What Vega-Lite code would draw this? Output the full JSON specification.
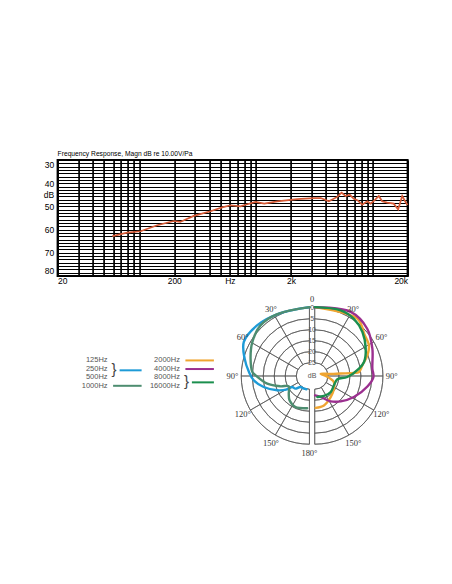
{
  "$schema": "https://vega.github.io/schema/vega-lite/v6.json",
  "background": "white",
  "padding": {"left": 41.6, "top": 149, "right": 5, "bottom": 5},
  "bounds": "flush",
  "spacing": 14,
  "config": {"view": {"stroke": "#000", "strokeWidth": 2}, "font": "Liberation Sans"},
  "datasets": {
    "response": [
      {"f": 59, "db": 62.8}, {"f": 79, "db": 61.3}, {"f": 103, "db": 60.7}, {"f": 143, "db": 58.1},
      {"f": 198, "db": 56.3}, {"f": 225, "db": 56.7}, {"f": 294, "db": 54.1}, {"f": 409, "db": 52.1},
      {"f": 515, "db": 50.4}, {"f": 607, "db": 49.5}, {"f": 740, "db": 50}, {"f": 789, "db": 49.5},
      {"f": 995, "db": 48.1}, {"f": 1180, "db": 48.8}, {"f": 1527, "db": 47.8}, {"f": 2265, "db": 46.9},
      {"f": 3147, "db": 46.4}, {"f": 3600, "db": 46.4}, {"f": 4226, "db": 47.8}, {"f": 4990, "db": 45.9},
      {"f": 5430, "db": 44.1}, {"f": 5875, "db": 45.5}, {"f": 6396, "db": 45}, {"f": 6920, "db": 46.7},
      {"f": 7480, "db": 47.4}, {"f": 8170, "db": 49.3}, {"f": 9030, "db": 47.8}, {"f": 9640, "db": 48.8},
      {"f": 10400, "db": 47.4}, {"f": 11330, "db": 45.5}, {"f": 12100, "db": 47.8}, {"f": 13370, "db": 48.4},
      {"f": 15200, "db": 48.8}, {"f": 16600, "db": 51.3}, {"f": 17980, "db": 45.5}, {"f": 19200, "db": 48.1},
      {"f": 20000, "db": 49.4}
    ],
    "polar": [
      {"series": "125/250/500Hz", "side": "L", "k": 0, "deg": 0, "db": -0.3},
      {"series": "125/250/500Hz", "side": "L", "k": 1, "deg": 26, "db": -0.55},
      {"series": "125/250/500Hz", "side": "L", "k": 2, "deg": 46, "db": -2.1},
      {"series": "125/250/500Hz", "side": "L", "k": 3, "deg": 62.6, "db": -2.6},
      {"series": "125/250/500Hz", "side": "L", "k": 4, "deg": 75, "db": 0.5},
      {"series": "125/250/500Hz", "side": "L", "k": 5, "deg": 86, "db": 3.4},
      {"series": "125/250/500Hz", "side": "L", "k": 6, "deg": 94.4, "db": 5.6},
      {"series": "125/250/500Hz", "side": "L", "k": 7, "deg": 103.5, "db": 9.6},
      {"series": "125/250/500Hz", "side": "L", "k": 8, "deg": 113.9, "db": 15},
      {"series": "125/250/500Hz", "side": "L", "k": 9, "deg": 120.8, "db": 19.2},
      {"series": "125/250/500Hz", "side": "L", "k": 10, "deg": 122.5, "db": 21.7},
      {"series": "125/250/500Hz", "side": "L", "k": 11, "deg": 132, "db": 22.4},
      {"series": "125/250/500Hz", "side": "L", "k": 12, "deg": 140.7, "db": 24.5},
      {"series": "125/250/500Hz", "side": "L", "k": 13, "deg": 155.8, "db": 24.7},
      {"series": "125/250/500Hz", "side": "L", "k": 14, "deg": 167, "db": 24.8},

      {"series": "1000Hz", "side": "L", "k": 0, "deg": 0, "db": -0.3},
      {"series": "1000Hz", "side": "L", "k": 1, "deg": 28, "db": -0.7},
      {"series": "1000Hz", "side": "L", "k": 2, "deg": 44, "db": -1},
      {"series": "1000Hz", "side": "L", "k": 3, "deg": 59.3, "db": 0.8},
      {"series": "1000Hz", "side": "L", "k": 4, "deg": 73.6, "db": 3.1},
      {"series": "1000Hz", "side": "L", "k": 5, "deg": 86, "db": 5},
      {"series": "1000Hz", "side": "L", "k": 6, "deg": 89.3, "db": 6.5},
      {"series": "1000Hz", "side": "L", "k": 7, "deg": 100.3, "db": 11.5},
      {"series": "1000Hz", "side": "L", "k": 8, "deg": 109.6, "db": 17},
      {"series": "1000Hz", "side": "L", "k": 9, "deg": 116.6, "db": 20.5},
      {"series": "1000Hz", "side": "L", "k": 10, "deg": 130.7, "db": 18.6},
      {"series": "1000Hz", "side": "L", "k": 11, "deg": 140.7, "db": 16.7},
      {"series": "1000Hz", "side": "L", "k": 12, "deg": 155.8, "db": 15.5},
      {"series": "1000Hz", "side": "L", "k": 13, "deg": 176, "db": 16.3},

      {"series": "2000Hz", "side": "R", "k": 0, "deg": 0, "db": -0.3},
      {"series": "2000Hz", "side": "R", "k": 1, "deg": 36.6, "db": -1.5},
      {"series": "2000Hz", "side": "R", "k": 2, "deg": 50.4, "db": 1.6},
      {"series": "2000Hz", "side": "R", "k": 3, "deg": 60.5, "db": 2.7},
      {"series": "2000Hz", "side": "R", "k": 4, "deg": 68.5, "db": 5.3},
      {"series": "2000Hz", "side": "R", "k": 5, "deg": 77.3, "db": 8.8},
      {"series": "2000Hz", "side": "R", "k": 6, "deg": 84.8, "db": 10.8},
      {"series": "2000Hz", "side": "R", "k": 7, "deg": 85.6, "db": 13.1},
      {"series": "2000Hz", "side": "R", "k": 8, "deg": 84.5, "db": 19.2},
      {"series": "2000Hz", "side": "R", "k": 9, "deg": 82.8, "db": 23.7},
      {"series": "2000Hz", "side": "R", "k": 10, "deg": 68.7, "db": 28.1},
      {"series": "2000Hz", "side": "R", "k": 11, "deg": 93.2, "db": 25.3},
      {"series": "2000Hz", "side": "R", "k": 12, "deg": 107.4, "db": 21.9},
      {"series": "2000Hz", "side": "R", "k": 13, "deg": 123.5, "db": 20.5},
      {"series": "2000Hz", "side": "R", "k": 14, "deg": 142.9, "db": 19},
      {"series": "2000Hz", "side": "R", "k": 15, "deg": 162.6, "db": 17},
      {"series": "2000Hz", "side": "R", "k": 16, "deg": 178.4, "db": 16.5},

      {"series": "4000Hz", "side": "R", "k": 0, "deg": 0, "db": -0.3},
      {"series": "4000Hz", "side": "R", "k": 1, "deg": 29.3, "db": -2.4},
      {"series": "4000Hz", "side": "R", "k": 2, "deg": 48, "db": -1.1},
      {"series": "4000Hz", "side": "R", "k": 3, "deg": 64.6, "db": 2},
      {"series": "4000Hz", "side": "R", "k": 4, "deg": 82.8, "db": 4.6},
      {"series": "4000Hz", "side": "R", "k": 5, "deg": 91, "db": 4.3},
      {"series": "4000Hz", "side": "R", "k": 6, "deg": 101, "db": 6.5},
      {"series": "4000Hz", "side": "R", "k": 7, "deg": 118.2, "db": 10.8},
      {"series": "4000Hz", "side": "R", "k": 8, "deg": 134.3, "db": 14.5},
      {"series": "4000Hz", "side": "R", "k": 9, "deg": 147.9, "db": 17.4},
      {"series": "4000Hz", "side": "R", "k": 10, "deg": 164.3, "db": 21.1},
      {"series": "4000Hz", "side": "R", "k": 11, "deg": 179, "db": 22.2},

      {"series": "8000/16000Hz", "side": "R", "k": 0, "deg": 0, "db": -0.3},
      {"series": "8000/16000Hz", "side": "R", "k": 1, "deg": 21.5, "db": -1.1},
      {"series": "8000/16000Hz", "side": "R", "k": 2, "deg": 34.4, "db": -0.5},
      {"series": "8000/16000Hz", "side": "R", "k": 3, "deg": 47.3, "db": 1.5},
      {"series": "8000/16000Hz", "side": "R", "k": 4, "deg": 61.8, "db": 4.7},
      {"series": "8000/16000Hz", "side": "R", "k": 5, "deg": 74.1, "db": 7.7},
      {"series": "8000/16000Hz", "side": "R", "k": 6, "deg": 80.6, "db": 10.6},
      {"series": "8000/16000Hz", "side": "R", "k": 7, "deg": 91.8, "db": 16.2},
      {"series": "8000/16000Hz", "side": "R", "k": 8, "deg": 98.3, "db": 20.6},
      {"series": "8000/16000Hz", "side": "R", "k": 9, "deg": 115.8, "db": 21.3},
      {"series": "8000/16000Hz", "side": "R", "k": 10, "deg": 135.2, "db": 20.7},
      {"series": "8000/16000Hz", "side": "R", "k": 11, "deg": 155.3, "db": 21},
      {"series": "8000/16000Hz", "side": "R", "k": 12, "deg": 173, "db": 21.4}
    ],
    "rings": [{"db": 0}, {"db": 5}, {"db": 10}, {"db": 15}, {"db": 20}, {"db": 25}],
    "spokes": [
      {"bearing": 0, "side": "R"}, {"bearing": 30, "side": "R"}, {"bearing": 60, "side": "R"}, {"bearing": 90, "side": "R"},
      {"bearing": 120, "side": "R"}, {"bearing": 150, "side": "R"}, {"bearing": 180, "side": "R"},
      {"bearing": 180, "side": "L"}, {"bearing": 210, "side": "L"}, {"bearing": 240, "side": "L"}, {"bearing": 270, "side": "L"},
      {"bearing": 300, "side": "L"}, {"bearing": 330, "side": "L"}, {"bearing": 360, "side": "L"}
    ],
    "ringLabels": [
      {"lab": "0", "db": 0}, {"lab": "5", "db": 5}, {"lab": "10", "db": 10}, {"lab": "15", "db": 15},
      {"lab": "20", "db": 20}, {"lab": "25", "db": 25}, {"lab": "dB", "db": 31}
    ],
    "angleLabels": [
      {"lab": "0", "deg": 0, "side": "C"},
      {"lab": "30°", "deg": 30, "side": "L"}, {"lab": "60°", "deg": 60, "side": "L"}, {"lab": "90°", "deg": 90, "side": "L"},
      {"lab": "120°", "deg": 120, "side": "L"}, {"lab": "150°", "deg": 150, "side": "L"}, {"lab": "180°", "deg": 180, "side": "L"},
      {"lab": "30°", "deg": 30, "side": "R"}, {"lab": "60°", "deg": 60, "side": "R"}, {"lab": "90°", "deg": 90, "side": "R"},
      {"lab": "120°", "deg": 120, "side": "R"}, {"lab": "150°", "deg": 150, "side": "R"}
    ],
    "legendText": [
      {"label": "125Hz", "col": 1, "row": 1}, {"label": "250Hz", "col": 1, "row": 2},
      {"label": "500Hz", "col": 1, "row": 3}, {"label": "1000Hz", "col": 1, "row": 4},
      {"label": "2000Hz", "col": 2, "row": 1}, {"label": "4000Hz", "col": 2, "row": 2},
      {"label": "8000Hz", "col": 2, "row": 3}, {"label": "16000Hz", "col": 2, "row": 4}
    ],
    "legendLines": [
      {"series": "125/250/500Hz", "col": 1, "row": 2.2, "grouped": true},
      {"series": "1000Hz", "col": 1, "row": 4, "grouped": false},
      {"series": "2000Hz", "col": 2, "row": 1.05, "grouped": false},
      {"series": "4000Hz", "col": 2, "row": 2.05, "grouped": false},
      {"series": "8000/16000Hz", "col": 2, "row": 3.6, "grouped": true}
    ]
  },
  "vconcat": [
    {
      "width": 350,
      "height": 116,
      "title": {"text": "Frequency Response, Magn dB re 10.00V/Pa", "anchor": "start", "frame": "group", "fontSize": 6.7, "fontWeight": "normal", "color": "#000", "offset": 2},
      "data": {"name": "response"},
      "mark": {"type": "line", "color": "#d65a36", "strokeWidth": 1.7},
      "encoding": {
        "x": {
          "field": "f", "type": "quantitative",
          "scale": {"type": "log", "domain": [20, 20000], "nice": false},
          "axis": {
            "values": [20, 30, 40, 50, 60, 70, 80, 90, 100, 200, 300, 400, 500, 600, 700, 800, 900, 1000, 2000, 3000, 4000, 5000, 6000, 7000, 8000, 9000, 10000, 20000],
            "grid": true, "gridColor": "#000", "gridWidth": 1.7, "gridOpacity": 1,
            "ticks": false, "tickSize": 0, "domain": false,
            "labelExpr": "datum.value == 20 ? '20' : datum.value == 200 ? '200' : datum.value == 600 ? 'Hz' : datum.value == 2000 ? '2k' : datum.value == 20000 ? '20k' : ''",
            "labelFontSize": 8.5, "labelColor": "#000", "labelPadding": 1, "labelOverlap": false, "labelFlush": true, "title": null
          }
        },
        "y": {
          "field": "db", "type": "quantitative",
          "scale": {"domain": [30, 80], "reverse": true, "nice": false, "zero": false},
          "axis": {
            "values": [30, 31.4286, 32.8571, 34.2857, 35.7143, 37.1429, 38.5714, 40, 41.4286, 42.8571, 44.2857, 45.7143, 47.1429, 48.5714, 50, 51.4286, 52.8571, 54.2857, 55.7143, 57.1429, 58.5714, 60, 61.4286, 62.8571, 64.2857, 65.7143, 67.1429, 68.5714, 70, 71.4286, 72.8571, 74.2857, 75.7143, 77.1429, 78.5714, 80],
            "grid": true, "gridColor": "#000", "gridWidth": 1.2, "gridOpacity": 1,
            "ticks": false, "tickSize": 0, "domain": false,
            "labelExpr": "datum.value % 10 == 0 ? datum.label : ''",
            "labelFontSize": 8.5, "labelColor": "#000", "labelPadding": 4, "labelOverlap": false, "labelFlush": true,
            "title": "dB", "titleAngle": 0, "titleAlign": "right", "titleBaseline": "middle",
            "titleX": -4, "titleY": 34.8, "titleFontSize": 8.5, "titleFontWeight": "normal", "titleColor": "#000"
          }
        }
      }
    },
    {
      "width": 350,
      "height": 172,
      "view": {"stroke": null},
      "resolve": {"scale": {"x": "independent", "y": "independent"}},
      "layer": [
        {
          "layer": [
            {
              "data": {"name": "rings"},
              "mark": {"type": "arc", "filled": false, "stroke": "#555", "strokeWidth": 0.7},
              "encoding": {
                "x": {"datum": -1.2, "type": "quantitative", "scale": {"domain": [-115.68, 43.41], "nice": false, "zero": false}, "axis": null},
                "y": {"datum": 0, "type": "quantitative", "scale": {"domain": [-39.09, 39.09], "nice": false, "zero": false}, "axis": null},
                "theta": {"datum": 180, "type": "quantitative", "scale": {"type": "linear", "domain": [0, 360], "range": [0, 6.283185307]}},
                "theta2": {"datum": 360},
                "radius": {"field": "db", "type": "quantitative", "scale": {"type": "linear", "domain": [31, 0], "range": [0, 68.2], "zero": false, "nice": false}},
                "radius2": {"field": "db"}
              }
            },
            {
              "data": {"name": "rings"},
              "mark": {"type": "arc", "filled": false, "stroke": "#555", "strokeWidth": 0.7},
              "encoding": {
                "x": {"datum": 1.2, "type": "quantitative", "scale": {"domain": [-115.68, 43.41], "nice": false, "zero": false}, "axis": null},
                "y": {"datum": 0, "type": "quantitative", "scale": {"domain": [-39.09, 39.09], "nice": false, "zero": false}, "axis": null},
                "theta": {"datum": 0, "type": "quantitative", "scale": {"type": "linear", "domain": [0, 360], "range": [0, 6.283185307]}},
                "theta2": {"datum": 180},
                "radius": {"field": "db", "type": "quantitative", "scale": {"type": "linear", "domain": [31, 0], "range": [0, 68.2], "zero": false, "nice": false}},
                "radius2": {"field": "db"}
              }
            },
            {
              "data": {"name": "spokes"},
              "transform": [{"filter": "datum.side == 'L'"}],
              "mark": {"type": "arc", "filled": false, "stroke": "#555", "strokeWidth": 0.7},
              "encoding": {
                "x": {"datum": -1.2, "type": "quantitative", "scale": {"domain": [-115.68, 43.41], "nice": false, "zero": false}, "axis": null},
                "y": {"datum": 0, "type": "quantitative", "scale": {"domain": [-39.09, 39.09], "nice": false, "zero": false}, "axis": null},
                "theta": {"field": "bearing", "type": "quantitative", "stack": null, "scale": {"type": "linear", "domain": [0, 360], "range": [0, 6.283185307]}},
                "theta2": {"field": "bearing"},
                "radius": {"datum": 0, "type": "quantitative", "scale": {"type": "linear", "domain": [31, 0], "range": [0, 68.2], "zero": false, "nice": false}},
                "radius2": {"datum": 25}
              }
            },
            {
              "data": {"name": "spokes"},
              "transform": [{"filter": "datum.side == 'R'"}],
              "mark": {"type": "arc", "filled": false, "stroke": "#555", "strokeWidth": 0.7},
              "encoding": {
                "x": {"datum": 1.2, "type": "quantitative", "scale": {"domain": [-115.68, 43.41], "nice": false, "zero": false}, "axis": null},
                "y": {"datum": 0, "type": "quantitative", "scale": {"domain": [-39.09, 39.09], "nice": false, "zero": false}, "axis": null},
                "theta": {"field": "bearing", "type": "quantitative", "stack": null, "scale": {"type": "linear", "domain": [0, 360], "range": [0, 6.283185307]}},
                "theta2": {"field": "bearing"},
                "radius": {"datum": 0, "type": "quantitative", "scale": {"type": "linear", "domain": [31, 0], "range": [0, 68.2], "zero": false, "nice": false}},
                "radius2": {"datum": 25}
              }
            },
            {
              "data": {"name": "polar"},
              "transform": [
                {"calculate": "(31 - datum.db) * sin(datum.deg * PI / 180)", "as": "east"},
                {"calculate": "datum.side == 'L' ? -1.2 - datum.east : 1.2 + datum.east", "as": "ex"},
                {"calculate": "(31 - datum.db) * cos(datum.deg * PI / 180)", "as": "ny"}
              ],
              "mark": {"type": "line", "strokeWidth": 2.4, "interpolate": "catmull-rom", "strokeCap": "round", "strokeJoin": "round"},
              "encoding": {
                "x": {"field": "ex", "type": "quantitative", "scale": {"domain": [-115.68, 43.41], "nice": false, "zero": false}, "axis": null},
                "y": {"field": "ny", "type": "quantitative", "scale": {"domain": [-39.09, 39.09], "nice": false, "zero": false}, "axis": null},
                "color": {
                  "field": "series", "type": "nominal", "legend": null,
                  "scale": {"domain": ["125/250/500Hz", "1000Hz", "2000Hz", "4000Hz", "8000/16000Hz"], "range": ["#1e9bd7", "#4d8d70", "#efa531", "#9b2f8f", "#1b8f4e"]}
                },
                "order": {"field": "k"}
              }
            },
            {
              "data": {"name": "ringLabels"},
              "transform": [{"calculate": "31 - datum.db", "as": "ny"}],
              "mark": {"type": "text", "fontSize": 7, "color": "#555", "align": "center", "baseline": "middle"},
              "encoding": {
                "x": {"datum": 0, "type": "quantitative", "scale": {"domain": [-115.68, 43.41], "nice": false, "zero": false}, "axis": null},
                "y": {"field": "ny", "type": "quantitative", "scale": {"domain": [-39.09, 39.09], "nice": false, "zero": false}, "axis": null},
                "text": {"field": "lab"}
              }
            },
            {
              "data": {"name": "angleLabels"},
              "transform": [
                {"calculate": "datum.side == 'L' ? -1.2 - 35 * sin(datum.deg * PI / 180) : datum.side == 'R' ? 1.2 + 35 * sin(datum.deg * PI / 180) : 0", "as": "ex"},
                {"calculate": "35 * cos(datum.deg * PI / 180)", "as": "ny"}
              ],
              "mark": {"type": "text", "font": "Liberation Serif", "fontSize": 8.5, "color": "#333", "align": "center", "baseline": "middle"},
              "encoding": {
                "x": {"field": "ex", "type": "quantitative", "scale": {"domain": [-115.68, 43.41], "nice": false, "zero": false}, "axis": null},
                "y": {"field": "ny", "type": "quantitative", "scale": {"domain": [-39.09, 39.09], "nice": false, "zero": false}, "axis": null},
                "text": {"field": "lab"}
              }
            }
          ]
        },
        {
          "layer": [
            {
              "data": {"name": "legendText"},
              "mark": {"type": "text", "fontSize": 7.5, "color": "#555", "align": "right", "baseline": "middle"},
              "encoding": {
                "x": {"field": "col", "type": "quantitative", "scale": {"domain": [0.3084, 5.1493], "nice": false, "zero": false}, "axis": null},
                "y": {"field": "row", "type": "quantitative", "scale": {"domain": [-7.14, 12.86], "nice": false, "zero": false, "reverse": true}, "axis": null},
                "text": {"field": "label"}
              }
            },
            {
              "data": {"name": "legendLines"},
              "transform": [{"filter": "!datum.grouped"}],
              "mark": {"type": "rule", "strokeWidth": 2, "xOffset": 5.5, "x2Offset": 34},
              "encoding": {
                "x": {"field": "col", "type": "quantitative", "scale": {"domain": [0.3084, 5.1493], "nice": false, "zero": false}, "axis": null},
                "x2": {"field": "col"},
                "y": {"field": "row", "type": "quantitative", "scale": {"domain": [-7.14, 12.86], "nice": false, "zero": false, "reverse": true}, "axis": null},
                "color": {"field": "series", "type": "nominal", "legend": null}
              }
            },
            {
              "data": {"name": "legendLines"},
              "transform": [{"filter": "datum.grouped"}],
              "mark": {"type": "rule", "strokeWidth": 2, "xOffset": 12, "x2Offset": 34},
              "encoding": {
                "x": {"field": "col", "type": "quantitative", "scale": {"domain": [0.3084, 5.1493], "nice": false, "zero": false}, "axis": null},
                "x2": {"field": "col"},
                "y": {"field": "row", "type": "quantitative", "scale": {"domain": [-7.14, 12.86], "nice": false, "zero": false, "reverse": true}, "axis": null},
                "color": {"field": "series", "type": "nominal", "legend": null}
              }
            },
            {
              "data": {"name": "legendLines"},
              "transform": [{"filter": "datum.grouped"}],
              "mark": {"type": "text", "text": "}", "fontSize": 15, "color": "#444", "align": "center", "baseline": "middle", "dx": 6.5, "dy": -1.5},
              "encoding": {
                "x": {"field": "col", "type": "quantitative", "scale": {"domain": [0.3084, 5.1493], "nice": false, "zero": false}, "axis": null},
                "y": {"field": "row", "type": "quantitative", "scale": {"domain": [-7.14, 12.86], "nice": false, "zero": false, "reverse": true}, "axis": null}
              }
            }
          ]
        }
      ]
    }
  ]
}
